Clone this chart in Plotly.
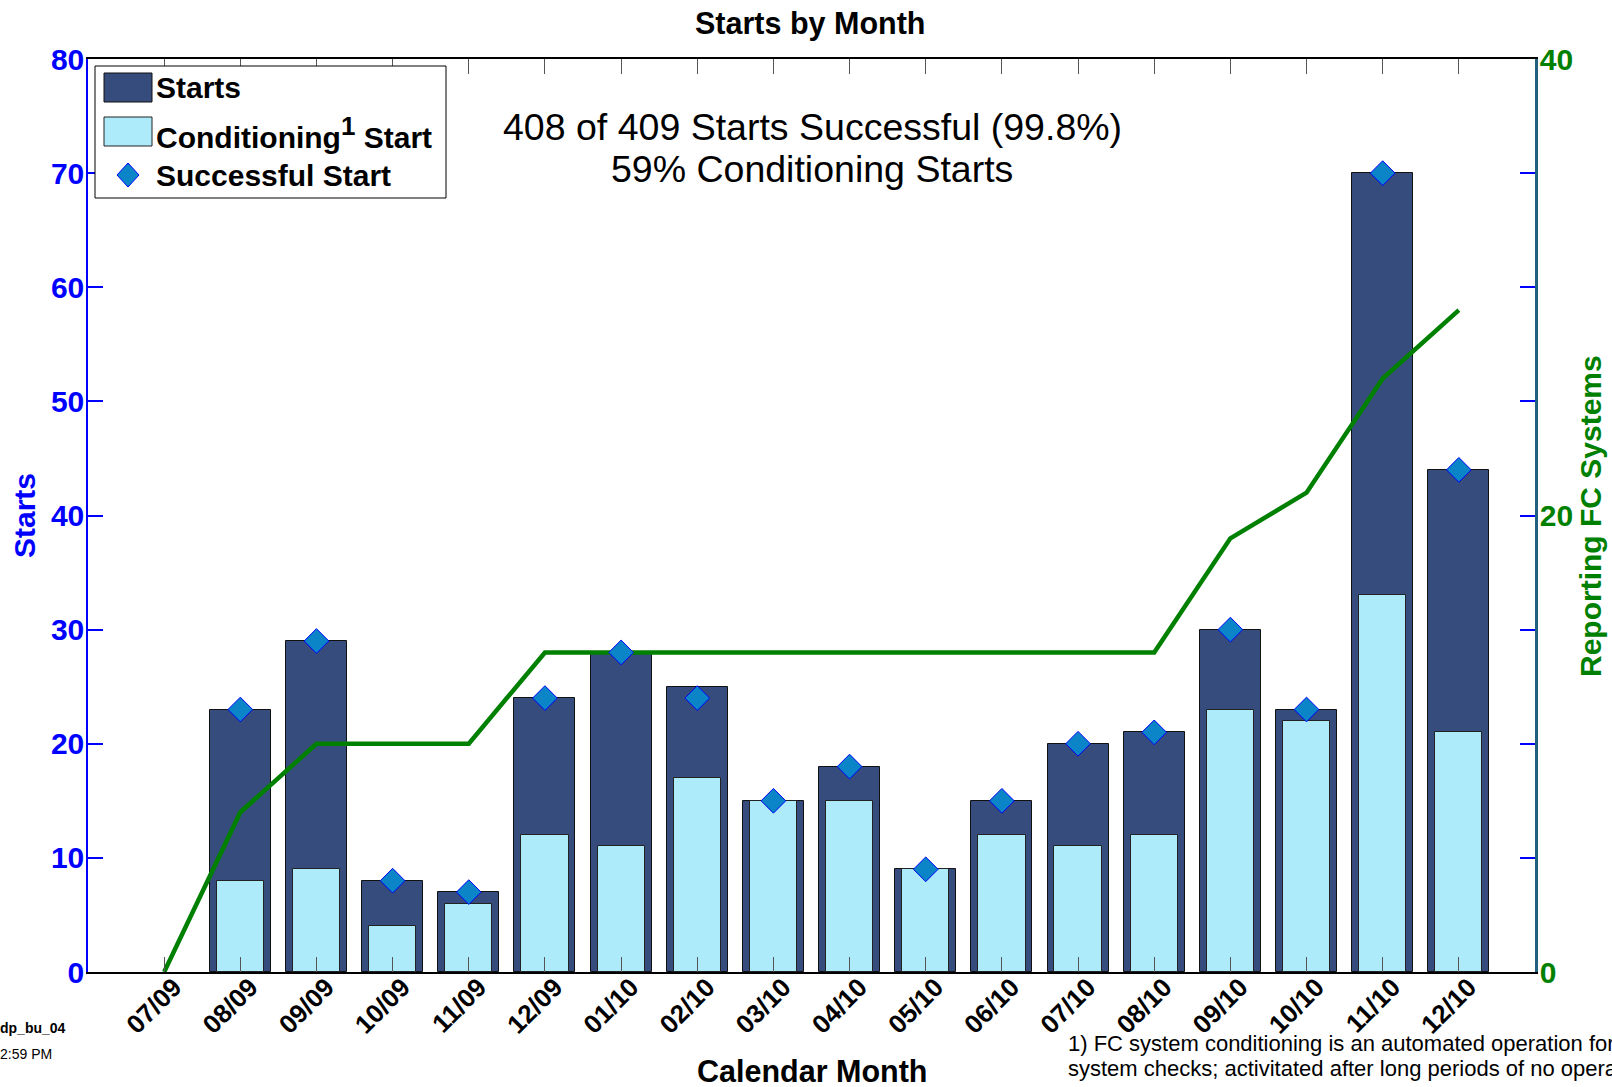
import plotly.graph_objects as go

# ---------------- data ----------------
months = ["07/09", "08/09", "09/09", "10/09", "11/09", "12/09", "01/10", "02/10", "03/10",
          "04/10", "05/10", "06/10", "07/10", "08/10", "09/10", "10/10", "11/10", "12/10"]
starts = [0, 23, 29, 8, 7, 24, 28, 25, 15, 18, 9, 15, 20, 21, 30, 23, 70, 44]
conditioning = [0, 8, 9, 4, 6, 12, 11, 17, 15, 15, 9, 12, 11, 12, 23, 22, 33, 21]
successful = [None, 23, 29, 8, 7, 24, 28, 24, 15, 18, 9, 15, 20, 21, 30, 23, 70, 44]
fc_systems = [0, 7, 10, 10, 10, 14, 14, 14, 14, 14, 14, 14, 14, 14, 19, 21, 26, 29]

left_ticks = [0, 10, 20, 30, 40, 50, 60, 70, 80]
right_ticks = [0, 20, 40]

# ---------------- styling ----------------
W, H = 1612, 1087
L, R, T, B = 88, 1535, 59, 972
FONT = "Liberation Sans, Arial, sans-serif"
DARK = "#364C7C"
LIGHT = "#ADEBFA"
DIAM = "#0B84C8"
GREEN = "#008000"
TEAL = "#22607F"


def px(x):
    return (x - L) / (R - L)


def py(y):
    return (B - y) / (B - T)


idx = list(range(len(months)))
dark_edge = [0 if v == 0 else 1 for v in starts]
light_edge = [0 if v == 0 else 1 for v in conditioning]

fig = go.Figure()
fig.add_trace(go.Bar(x=idx, y=starts, width=0.8, name="Starts",
                     marker=dict(color=DARK, opacity=1, line=dict(color="#111111", width=dark_edge)),
                     showlegend=False))
fig.add_trace(go.Bar(x=idx, y=conditioning, width=0.62, name="Conditioning Start",
                     marker=dict(color=LIGHT, opacity=1, line=dict(color="#222222", width=light_edge)),
                     showlegend=False))
fig.add_trace(go.Scatter(x=idx, y=fc_systems, yaxis="y2", mode="lines",
                         line=dict(color=GREEN, width=4.5), showlegend=False))
fig.add_trace(go.Scatter(x=idx, y=successful, yaxis="y3", mode="markers",
                         marker=dict(symbol="diamond", size=19, color=DIAM,
                                     line=dict(color="#0000FF", width=1)),
                         showlegend=False))

fig.update_layout(
    width=W, height=H,
    margin=dict(l=L, r=W - R, t=T, b=H - B, autoexpand=False),
    paper_bgcolor="white", plot_bgcolor="white",
    barmode="overlay", bargap=0,
    font=dict(family=FONT, color="black"),
    xaxis=dict(range=[-1, 18], tickmode="array", tickvals=idx, ticktext=months,
               tickangle=-45, ticks="inside", ticklen=15, tickwidth=1, tickcolor="#555555",
               ticklabelshift=10, ticklabelstandoff=-12,
               showline=True, linecolor="black", linewidth=1.5, mirror="ticks",
               showgrid=False, zeroline=False,
               tickfont=dict(family=FONT, size=26, color="black", weight="bold")),
    yaxis=dict(range=[0, 80], tickmode="array", tickvals=left_ticks,
               ticks="inside", ticklen=15, tickwidth=1.5, tickcolor="#0000FF",
               ticklabelstandoff=-4,
               showline=True, linecolor="#0000FF", linewidth=1.5,
               showgrid=False, zeroline=False,
               tickfont=dict(family=FONT, size=30, color="#0000FF", weight="bold")),
    yaxis2=dict(range=[0, 40], overlaying="y", side="right", tickmode="array",
                tickvals=right_ticks, ticks="inside", ticklen=15, tickwidth=1.5,
                tickcolor=GREEN, ticklabelstandoff=-4,
                showline=True, linecolor=TEAL, linewidth=2.5,
                showgrid=False, zeroline=False,
                tickfont=dict(family=FONT, size=30, color=GREEN, weight="bold")),
    yaxis3=dict(range=[0, 80], overlaying="y", side="right", tickmode="array",
                tickvals=left_ticks[1:-1], ticks="inside", ticklen=15, tickwidth=1.5,
                tickcolor="#0000FF", showticklabels=False, showline=False,
                showgrid=False, zeroline=False),
)

ann = []


def add_text(text, x, y, size, color="black", bold=False, xanchor="center", angle=0):
    ann.append(dict(text=text, x=px(x), y=py(y), xref="paper", yref="paper",
                    xanchor=xanchor, yanchor="middle", showarrow=False, textangle=angle,
                    font=dict(family=FONT, size=size, color=color,
                              weight="bold" if bold else "normal")))


add_text("Starts by Month", 810, 24, 30.5, bold=True)
add_text("408 of 409 Starts Successful (99.8%)", 812, 127, 37.5)
add_text("59% Conditioning Starts", 812, 169, 37.5)
add_text("Starts", 24, 516, 30, color="#0000FF", bold=True, angle=-90)
add_text("Reporting FC Systems", 1590, 516, 30, color=GREEN, bold=True, angle=-90)
add_text("Calendar Month", 812, 1071, 30.5, bold=True)
add_text("1) FC system conditioning is an automated operation for", 1066, 1043, 22, xanchor="left")
add_text("system checks; activitated after long periods of no operation", 1066, 1068, 22, xanchor="left")
add_text("dp_bu_04", -2, 1028, 14, bold=True, xanchor="left")
add_text("2:59 PM", -2, 1054, 14, xanchor="left")

# legend (manual, to match the reference's large swatches)
add_text("Starts", 154, 88, 30, bold=True, xanchor="left")
add_text("Conditioning<sup><span style=\"font-size:26px\">1</span></sup> Start", 154, 133, 30,
         bold=True, xanchor="left")
add_text("Successful Start", 154, 176, 30, bold=True, xanchor="left")

shapes = [
    dict(type="rect", xref="paper", yref="paper", x0=px(95), x1=px(446), y0=py(198), y1=py(66),
         line=dict(color="black", width=1), fillcolor="white", layer="above"),
    dict(type="rect", xref="paper", yref="paper", x0=px(104), x1=px(152), y0=py(102), y1=py(73),
         line=dict(color="#111111", width=1), fillcolor=DARK, layer="above"),
    dict(type="rect", xref="paper", yref="paper", x0=px(104), x1=px(152), y0=py(146), y1=py(117),
         line=dict(color="#222222", width=1), fillcolor=LIGHT, layer="above"),
]
cx, cy = 128, 175
path = "M{},{} L{},{} L{},{} L{},{} Z".format(px(cx), py(cy - 12), px(cx + 11), py(cy),
                                               px(cx), py(cy + 12), px(cx - 11), py(cy))
shapes.append(dict(type="path", xref="paper", yref="paper", path=path,
                   line=dict(color="#0000FF", width=1), fillcolor=DIAM, layer="above"))

fig.update_layout(annotations=ann, shapes=shapes)
fig.write_html("out.html", config={"displayModeBar": False},
               post_script="document.body.style.margin='0';document.body.style.overflow='hidden';")
